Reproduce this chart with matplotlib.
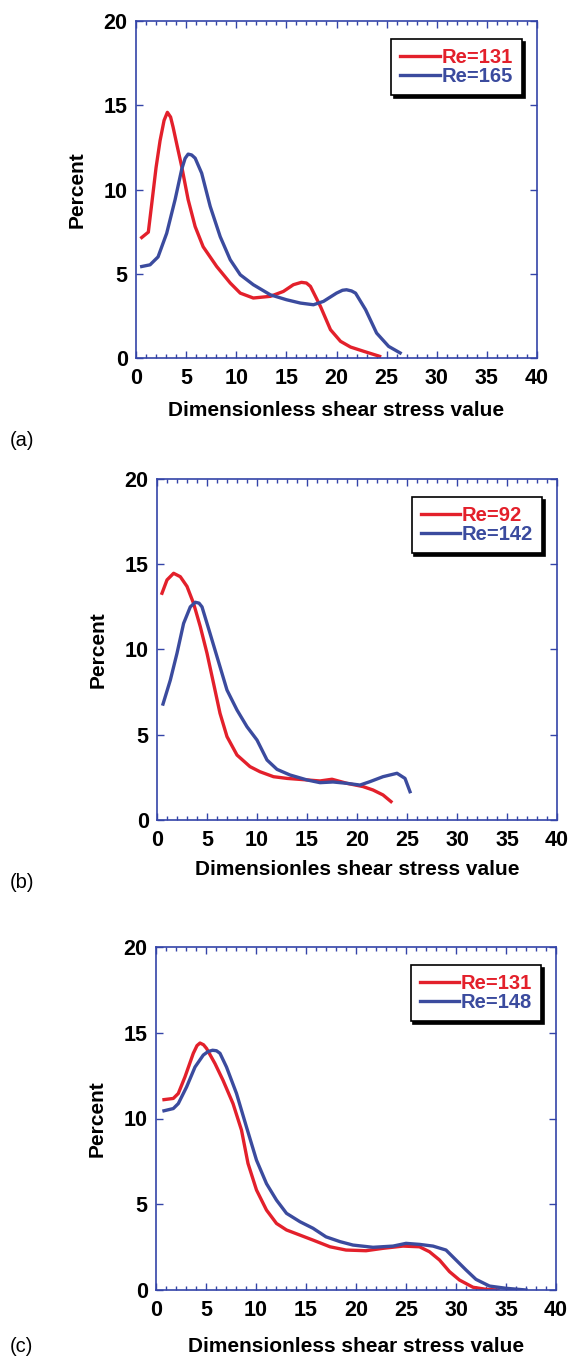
import matplotlib
matplotlib.use("Agg")
import matplotlib.pyplot as plt
from matplotlib.ticker import MultipleLocator

plt.rcParams['font.family'] = ['Liberation Sans', 'DejaVu Sans']

# ---- Data ----
# Panel (a)
a_red_x = [0.57, 1.23, 1.6, 2.0, 2.4, 2.8, 3.13, 3.45, 3.7, 4.1, 4.56, 5.2, 5.9, 6.7, 8.05, 9.4, 10.4, 11.7, 13.4, 14.7, 15.7, 16.5, 17.0, 17.4, 18.4, 19.4, 20.4, 21.4, 22.7, 24.3]
a_red_y = [7.15, 7.47, 9.3, 11.3, 12.9, 14.1, 14.58, 14.3, 13.7, 12.6, 11.36, 9.4, 7.8, 6.6, 5.43, 4.45, 3.85, 3.56, 3.66, 3.95, 4.35, 4.49, 4.45, 4.25, 3.06, 1.68, 0.99, 0.65, 0.4, 0.1]
a_blue_x = [0.57, 1.4, 2.2, 3.06, 3.9, 4.56, 4.9, 5.2, 5.55, 5.9, 6.55, 7.4, 8.4, 9.4, 10.4, 11.7, 13.4, 15.0, 16.4, 17.7, 18.7, 20.0, 20.6, 21.0, 21.5, 21.9, 22.9, 24.0, 25.2, 26.35]
a_blue_y = [5.43, 5.53, 6.0, 7.4, 9.4, 11.2, 11.85, 12.1, 12.05, 11.86, 10.97, 9.0, 7.2, 5.83, 4.94, 4.35, 3.75, 3.46, 3.26, 3.16, 3.36, 3.85, 4.02, 4.05, 3.98, 3.85, 2.87, 1.48, 0.69, 0.3]
a_labels = ["Re=131", "Re=165"]

# Panel (b)
b_red_x = [0.5, 1.0, 1.66, 2.33, 3.0, 3.66, 4.33, 5.0, 5.66, 6.3, 7.0, 8.0, 9.3, 10.3, 11.65, 13.0, 15.0, 16.3, 17.5, 19.0, 20.6, 21.6, 22.6, 23.4]
b_red_y = [13.3, 14.08, 14.47, 14.27, 13.7, 12.7, 11.34, 9.78, 8.0, 6.26, 4.89, 3.81, 3.13, 2.83, 2.54, 2.44, 2.35, 2.29, 2.39, 2.15, 1.96, 1.76, 1.47, 1.08]
b_blue_x = [0.6, 1.33, 2.0, 2.66, 3.33, 3.83, 4.2, 4.5, 5.3, 6.0, 7.0, 8.0, 9.0, 10.0, 11.0, 12.0, 13.3, 15.0, 16.3, 17.6, 19.0, 20.3, 21.3, 22.6, 24.0, 24.8, 25.3]
b_blue_y = [6.8, 8.2, 9.78, 11.53, 12.5, 12.77, 12.72, 12.5, 10.95, 9.58, 7.62, 6.45, 5.47, 4.69, 3.52, 2.97, 2.64, 2.35, 2.19, 2.23, 2.15, 2.05, 2.25, 2.54, 2.74, 2.44, 1.66]
b_labels = ["Re=92", "Re=142"]

# Panel (c)
c_red_x = [0.8, 1.73, 2.23, 2.9, 3.73, 4.1, 4.4, 4.75, 5.06, 5.9, 6.7, 7.7, 8.55, 9.2, 10.05, 11.05, 12.05, 13.05, 14.4, 15.7, 17.4, 19.0, 21.0, 22.7, 24.7, 26.35, 27.35, 28.35, 29.35, 30.35, 31.7, 33.0, 34.2]
c_red_y = [11.1, 11.17, 11.46, 12.43, 13.8, 14.25, 14.4, 14.3, 14.08, 13.2, 12.23, 10.87, 9.32, 7.38, 5.83, 4.66, 3.88, 3.5, 3.2, 2.91, 2.52, 2.33, 2.29, 2.43, 2.56, 2.52, 2.23, 1.75, 1.07, 0.58, 0.16, 0.04, 0.0]
c_blue_x = [0.8, 1.73, 2.23, 3.06, 3.9, 4.73, 5.2, 5.66, 6.05, 6.4, 7.05, 8.05, 9.05, 10.05, 11.05, 12.05, 13.05, 14.4, 15.7, 17.0, 18.4, 19.7, 21.7, 23.7, 25.0, 26.35, 27.7, 29.0, 30.0, 31.0, 32.0, 33.35, 35.0, 37.0]
c_blue_y = [10.45, 10.58, 10.87, 11.84, 13.0, 13.7, 13.9, 13.98, 13.95, 13.8, 13.0, 11.46, 9.5, 7.57, 6.2, 5.24, 4.47, 3.98, 3.6, 3.1, 2.82, 2.62, 2.49, 2.56, 2.72, 2.66, 2.56, 2.33, 1.75, 1.17, 0.62, 0.23, 0.1, 0.0]
c_labels = ["Re=131", "Re=148"]

xlabels = ["Dimensionless shear stress value",
           "Dimensionles shear stress value",
           "Dimensionless shear stress value"]
panel_tags = ["(a)", "(b)", "(c)"]

RED = "#E3202B"
BLUE = "#3B4B9E"
AXC = "#3444A8"

W, H = 573, 1361
fig = plt.figure(figsize=(W / 100, H / 100), dpi=100)

# axes boxes in pixels: left, top, right, bottom
boxes = [(136, 21, 537, 358), (157, 479, 557, 820), (156, 947, 556, 1290)]
tag_pos = [(10, 440), (10, 882), (10, 1347)]
xlabelpads = [8.5, 6.5, 11.5]

panels = [
    (a_red_x, a_red_y, a_blue_x, a_blue_y, a_labels),
    (b_red_x, b_red_y, b_blue_x, b_blue_y, b_labels),
    (c_red_x, c_red_y, c_blue_x, c_blue_y, c_labels),
]

for i, ((rx, ry, bx, by, labs), (l, t, r, b)) in enumerate(zip(panels, boxes)):
    ax = fig.add_axes([l / W, 1 - b / H, (r - l) / W, (b - t) / H])
    ax.plot(rx, ry, color=RED, lw=2.4, label=labs[0], solid_joinstyle='round')
    ax.plot(bx, by, color=BLUE, lw=2.4, label=labs[1], solid_joinstyle='round')
    ax.set_xlim(0, 40)
    ax.set_ylim(0, 20)
    ax.xaxis.set_major_locator(MultipleLocator(5))
    ax.xaxis.set_minor_locator(MultipleLocator(1))
    ax.yaxis.set_major_locator(MultipleLocator(5))
    ax.tick_params(which='both', direction='in', top=True, right=True,
                   color=AXC, width=1.0)
    ax.tick_params(which='major', length=5, labelsize=15.5)
    ax.tick_params(axis='x', which='major', pad=7.5)
    ax.tick_params(axis='y', which='major', pad=6)
    ax.tick_params(which='minor', length=3)
    for lab in ax.get_xticklabels() + ax.get_yticklabels():
        lab.set_fontweight('bold')
    for sp in ax.spines.values():
        sp.set_color(AXC)
        sp.set_linewidth(1.2)
    ax.set_xlabel(xlabels[i], fontsize=15, fontweight='bold', labelpad=xlabelpads[i])
    ax.set_ylabel("Percent", fontsize=15, fontweight='bold', labelpad=12.5)
    leg = ax.legend(loc='upper right', bbox_to_anchor=(0.963, 0.947),
                    frameon=True, fancybox=False,
                    shadow={'color': 'black', 'alpha': 1.0, 'ox': 2, 'oy': -2},
                    prop={'weight': 'bold', 'size': 14.5},
                    labelcolor='linecolor', handlelength=1.95,
                    handletextpad=0.1, borderpad=0.45, labelspacing=0.0,
                    borderaxespad=0)
    leg.get_frame().set_edgecolor('black')
    leg.get_frame().set_linewidth(1.2)
    tx, ty = tag_pos[i]
    fig.text(tx / W, 1 - ty / H, panel_tags[i], fontsize=14.5, ha='left', va='center')

fig.savefig("out.png", dpi=100)
